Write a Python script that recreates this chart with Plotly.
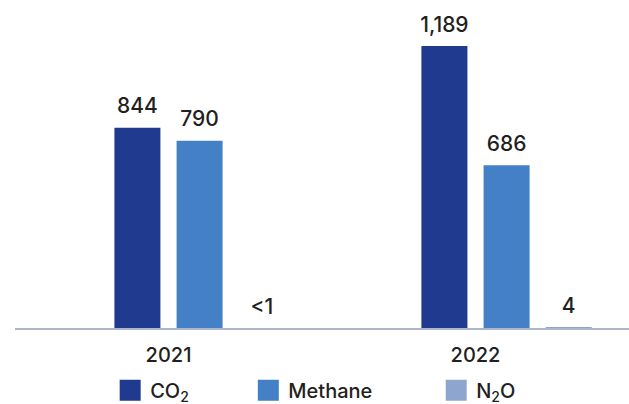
import plotly.graph_objects as go

years = ["2021", "2022"]
co2 = [844, 1189]
methane = [790, 686]
n2o = [0, 4]
co2_labels = ["844", "1,189"]
methane_labels = ["790", "686"]
n2o_labels = ["<1", "4"]

C_CO2 = "#1f3a8f"
C_CH4 = "#4480c5"
C_N2O = "#8ea5cf"
FONT = "Inter"
TXT = "#231f20"

fig = go.Figure()
# empty leading slot (the source chart reserves a fourth, empty position)
fig.add_trace(go.Bar(x=years, y=[None, None], showlegend=False, hoverinfo="skip", offsetgroup="g0"))
series = [("g1", co2, co2_labels, C_CO2), ("g2", methane, methane_labels, C_CH4), ("g3", n2o, n2o_labels, C_N2O)]
for g, vals, labels, col in series:
    fig.add_trace(go.Bar(x=years, y=vals, offsetgroup=g,
                         marker=dict(color=col, line=dict(width=0)), showlegend=False))
for g, vals, labels, col in series:
    fig.add_trace(go.Scatter(x=years, y=vals, offsetgroup=g, mode="markers+text", text=labels,
                             textposition="top center", marker=dict(size=13, opacity=0),
                             textfont=dict(family=FONT, size=21, color=TXT, weight=500),
                             cliponaxis=False, showlegend=False, hoverinfo="skip"))

legend_items = [("CO<sub>2</sub>", C_CO2, "legend", 0.155), ("Methane", C_CH4, "legend2", 0.38), ("N<sub>2</sub>O", C_N2O, "legend3", 0.686)]
for name, col, lg, _ in legend_items:
    fig.add_trace(go.Scatter(x=[None], y=[None], mode="markers", name=name, legend=lg,
                             marker=dict(symbol="square", size=16, color=col, line=dict(width=5, color=col))))

layout_legends = {}
for name, col, lg, xpos in legend_items:
    layout_legends[lg] = dict(x=xpos, y=-0.19, xanchor="left", yanchor="middle", orientation="h",
                              font=dict(family=FONT, size=20, color=TXT, weight=500), itemsizing="trace",
                              bgcolor="rgba(0,0,0,0)", borderwidth=0)

fig.update_layout(
    width=629, height=404,
    margin=dict(l=15, r=0, t=0, b=76, autoexpand=False),
    barmode="group", bargap=0.19, bargroupgap=0.26,
    scattermode="group", scattergap=0.19,
    plot_bgcolor="white", paper_bgcolor="white",
    xaxis=dict(showline=True, linecolor="#a9b6cc", linewidth=1.5, ticks="outside", ticklen=8,
               tickcolor="rgba(0,0,0,0)", tickfont=dict(family=FONT, size=20, color=TXT, weight=500), showgrid=False),
    yaxis=dict(range=[0, 1383], visible=False, showgrid=False),
    **layout_legends,
)
fig.write_html("out.html")
